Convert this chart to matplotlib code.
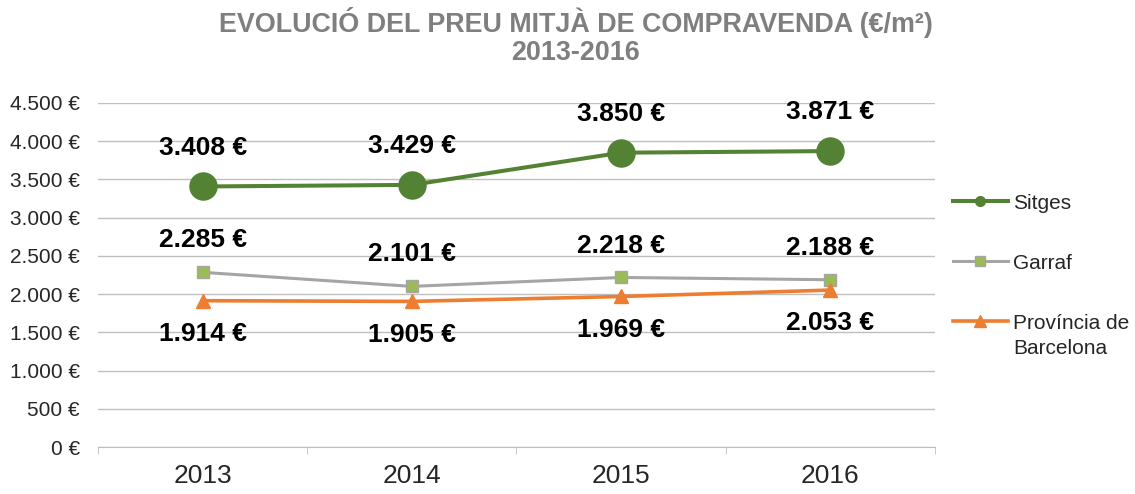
import matplotlib
matplotlib.use("Agg")
import matplotlib.pyplot as plt
from matplotlib.lines import Line2D
from matplotlib.ticker import FuncFormatter, FixedLocator
from matplotlib import font_manager

years = ["2013", "2014", "2015", "2016"]
sitges = [3408, 3429, 3850, 3871]
garraf = [2285, 2101, 2218, 2188]
provincia = [1914, 1905, 1969, 2053]
series_names = ["Sitges", "Garraf", "Província de"]
series_name_extra = "Barcelona"

GREEN = "#548235"
GRAY = "#A5A5A5"
LIGHT_GREEN = "#9BBB59"
ORANGE = "#ED7D31"
GRID = "#BFBFBF"
TITLE_GRAY = "#7F7F7F"
TEXT = "#262626"

installed = {f.name for f in font_manager.fontManager.ttflist}
base_font = "Liberation Sans" if "Liberation Sans" in installed else "DejaVu Sans"
title_font = "Liberation Sans Narrow" if "Liberation Sans Narrow" in installed else base_font
plt.rcParams["font.family"] = [base_font, "DejaVu Sans"]


def euro(v, pos=None):
    return f"{int(v):,} €".replace(",", ".")


fig = plt.figure(figsize=(11.35, 4.94), dpi=100)
ax = fig.add_axes([0.0863, 0.0951, 0.7375, 0.6964])

x = list(range(len(years)))
ax.plot(x, sitges, color=GREEN, lw=2.9, marker="o", ms=19.5, mfc=GREEN, mec=GREEN, zorder=5)
ax.plot(x, garraf, color=GRAY, lw=2.2, marker="s", ms=9, mfc=LIGHT_GREEN, mec=GRAY, mew=1, zorder=4)
ax.plot(x, provincia, color=ORANGE, lw=2.6, marker="^", ms=10, mfc=ORANGE, mec=ORANGE, zorder=4)

# value labels: Sitges and Garraf above, provincia below
label_kw = dict(textcoords="offset points", ha="center", va="center",
                fontsize=19, fontweight="bold", color="black")
for xi, v in zip(x, sitges):
    ax.annotate(euro(v), (xi, v), xytext=(0, 28), **label_kw)
for xi, v in zip(x, garraf):
    ax.annotate(euro(v), (xi, v), xytext=(0, 23), **label_kw)
for xi, v in zip(x, provincia):
    ax.annotate(euro(v), (xi, v), xytext=(0, -24), **label_kw)

ax.set_xlim(-0.5, 3.5)
ax.set_ylim(0, 4500)
ax.set_yticks(range(0, 4501, 500))
ax.yaxis.set_major_formatter(FuncFormatter(euro))
ax.set_xticks(x)
ax.set_xticklabels(years)
ax.xaxis.set_minor_locator(FixedLocator([-0.5, 0.5, 1.5, 2.5, 3.5]))

ax.grid(axis="y", color=GRID, lw=1)
ax.set_axisbelow(True)
for side in ["top", "right", "left"]:
    ax.spines[side].set_visible(False)
ax.spines["bottom"].set_color(GRID)
ax.tick_params(axis="y", length=0, pad=13, labelsize=15, labelcolor=TEXT)
ax.tick_params(axis="x", which="major", length=0, pad=12, labelsize=19, labelcolor=TEXT)
ax.tick_params(axis="x", which="minor", length=5, color=GRID)

handles = [
    Line2D([], [], color=GREEN, lw=2.9, marker="o", ms=7, mfc=GREEN, mec=GREEN),
    Line2D([], [], color=GRAY, lw=2.2, marker="s", ms=7, mfc=LIGHT_GREEN, mec=GRAY),
    Line2D([], [], color=ORANGE, lw=2.6, marker="^", ms=8, mfc=ORANGE, mec=ORANGE),
]
leg = fig.legend(handles, series_names, loc="upper left", bbox_to_anchor=(0.823, 0.646),
                 frameon=False, fontsize=15, labelspacing=1.97, handlelength=2.64,
                 handletextpad=0.25, labelcolor=TEXT)

# second line of the last legend label, under its first line
fig.canvas.draw()
bb = leg.get_texts()[2].get_window_extent().transformed(fig.transFigure.inverted())
fig.text(bb.x0, bb.y0 - 0.012, series_name_extra, ha="left", va="top",
         fontsize=15, color=TEXT)

fig.text(0.507, 0.926, "EVOLUCIÓ DEL PREU MITJÀ DE COMPRAVENDA (€/m²)\n2013-2016",
         ha="center", va="center", fontsize=19.4, fontweight="bold", color=TITLE_GRAY,
         family=[title_font, "DejaVu Sans"], linespacing=1.13)

fig.savefig("out.png", dpi=100)
